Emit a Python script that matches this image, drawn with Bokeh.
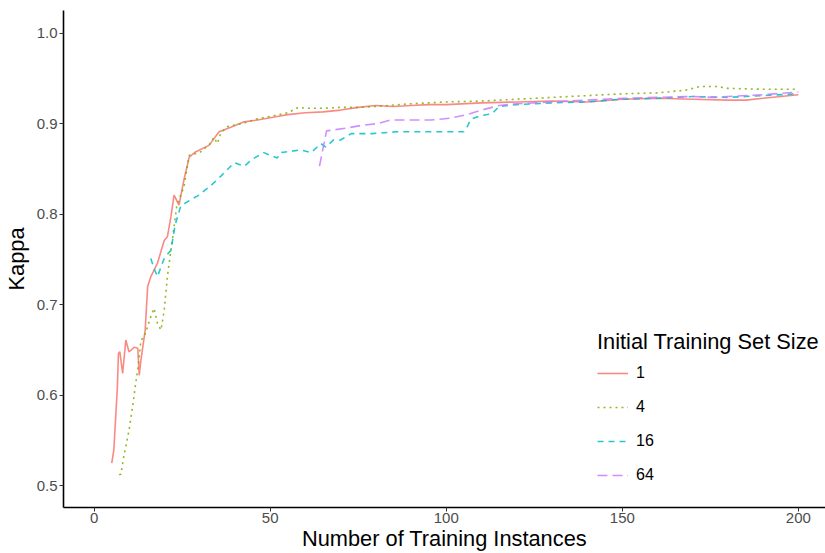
from bokeh.plotting import figure
from bokeh.models import Range1d, Legend, LegendItem, FixedTicker, NumeralTickFormatter
from bokeh.embed import file_html
from bokeh.resources import INLINE

# Series: initial training set size 1
x1 = [5, 5.6, 6.6, 6.9, 7.3, 8.1, 9.0, 9.9, 11.4, 12.4, 12.8, 13.3, 14.5, 15.2, 16.1, 18.0,
      19.9, 20.8, 21.8, 22.7, 24.1, 25.5, 27.0, 28.9, 32.6, 35.5, 38.8, 42.6, 46.4, 52,
      55, 60, 65, 70, 75, 80, 85, 90, 95, 100, 110, 120, 130, 140, 150, 160, 170, 180,
      185, 190, 200]
y1 = [0.525, 0.540, 0.609, 0.646, 0.648, 0.624, 0.661, 0.648, 0.653, 0.652, 0.622, 0.639,
      0.672, 0.720, 0.731, 0.746, 0.771, 0.775, 0.797, 0.821, 0.810, 0.838, 0.863, 0.869,
      0.876, 0.891, 0.896, 0.902, 0.904, 0.908, 0.910, 0.912, 0.913, 0.915, 0.918, 0.920,
      0.919, 0.920, 0.921, 0.921, 0.923, 0.924, 0.925, 0.924, 0.927, 0.928, 0.927, 0.926,
      0.926, 0.928, 0.932]

# Series: initial training set size 4
x4 = [7.1, 7.6, 8.5, 9.9, 10.9, 11.8, 12.6, 13.3, 14.2, 16.1, 17.0, 18.0, 19.0, 19.9, 20.8,
      21.8, 22.5, 23.5, 25.5, 27, 30, 33, 34, 35, 36, 38, 42, 46, 50, 55, 58, 60, 65, 70,
      75, 80, 90, 100, 110, 120, 130, 140, 150, 160, 168, 172, 177, 180, 190, 200]
y4 = [0.512, 0.513, 0.534, 0.561, 0.587, 0.613, 0.635, 0.661, 0.664, 0.687, 0.696, 0.679,
      0.672, 0.694, 0.731, 0.760, 0.780, 0.810, 0.830, 0.865, 0.868, 0.878, 0.885, 0.878,
      0.890, 0.897, 0.900, 0.905, 0.908, 0.912, 0.918, 0.917, 0.917, 0.918, 0.918, 0.919,
      0.922, 0.924, 0.925, 0.927, 0.929, 0.931, 0.933, 0.934, 0.937, 0.941, 0.941, 0.939,
      0.938, 0.938]

# Series: initial training set size 16
x16 = [16.1, 17, 18, 19, 20, 21.8, 23, 24.6, 27, 29.3, 33, 36, 39.8, 42.6, 45, 48.2, 52, 53,
       58.7, 61.6, 64.4, 65.8, 68, 70, 73, 79, 86, 92, 100, 105, 106, 107, 110, 113, 115,
       120, 125, 130, 140, 150, 160, 170, 180, 190, 200]
y16 = [0.751, 0.740, 0.731, 0.742, 0.752, 0.760, 0.788, 0.809, 0.815, 0.820, 0.831, 0.842,
       0.857, 0.853, 0.861, 0.868, 0.862, 0.868, 0.871, 0.868, 0.878, 0.874, 0.882, 0.882,
       0.889, 0.889, 0.891, 0.891, 0.891, 0.891, 0.897, 0.905, 0.909, 0.911, 0.919, 0.921,
       0.922, 0.923, 0.924, 0.927, 0.928, 0.930, 0.929, 0.931, 0.933]

# Series: initial training set size 64
x64 = [64, 66, 71.4, 75.8, 80.4, 84.2, 90, 95.6, 101, 106, 110, 115, 120, 130, 140, 150,
       160, 170, 176, 180, 190, 200]
y64 = [0.853, 0.892, 0.895, 0.898, 0.900, 0.904, 0.904, 0.904, 0.906, 0.910, 0.915, 0.920,
       0.922, 0.924, 0.926, 0.928, 0.929, 0.930, 0.929, 0.930, 0.932, 0.935]

series_labels = ["1", "4", "16", "64"]
x_ticks = [0, 50, 100, 150, 200]
y_ticks = [0.5, 0.6, 0.7, 0.8, 0.9, 1.0]

colors = ["#F8766D", "#7CAE00", "#00BFC4", "#C77CFF"]
dashes = ["solid", "2 4", "6 5", "10 5"]
FONT = "Liberation Sans"

p = figure(width=825, height=553, x_range=Range1d(-8.7, 207.7), y_range=Range1d(0.476, 1.025),
           output_backend="svg", toolbar_location=None,
           min_border_left=63, min_border_right=0, min_border_top=10, min_border_bottom=46)
p.outline_line_color = None
p.xgrid.visible = False
p.ygrid.visible = False
p.background_fill_color = "white"

renderers = []
for xs, ys, c, d in zip([x1, x4, x16, x64], [y1, y4, y16, y64], colors, dashes):
    r = p.line(xs, ys, line_color=c, line_width=1.6, line_dash=d, line_alpha=0.85)
    renderers.append(r)

for ax in (p.xaxis[0], p.yaxis[0]):
    ax.axis_line_color = "black"
    ax.axis_line_width = 1.6
    ax.major_tick_line_color = "#333333"
    ax.major_tick_out = 4
    ax.major_tick_in = 0
    ax.minor_tick_line_color = None
    ax.major_label_text_color = "#4d4d4d"
    ax.major_label_text_font = FONT
    ax.major_label_text_font_size = "15px"
    ax.axis_label_text_font = FONT
    ax.axis_label_text_font_size = "21.8px"
    ax.axis_label_text_font_style = "normal"
    ax.axis_label_text_color = "black"

p.xaxis.ticker = FixedTicker(ticks=x_ticks)
p.yaxis.ticker = FixedTicker(ticks=y_ticks)
p.yaxis.formatter = NumeralTickFormatter(format="0.0")
p.xaxis.axis_label = "Number of Training Instances"
p.yaxis.axis_label = "Kappa"
p.xaxis.major_label_standoff = 1
p.xaxis.axis_label_standoff = 0
p.yaxis.major_label_standoff = 2
p.yaxis.axis_label_standoff = 5

items = [LegendItem(label=lab, renderers=[r]) for lab, r in zip(series_labels, renderers)]
legend = Legend(items=items, title="Initial Training Set Size", location=(534, 22),
                padding=0, margin=0, spacing=14, glyph_width=31, glyph_height=20,
                label_height=20, label_standoff=8, title_standoff=8,
                background_fill_alpha=0, border_line_alpha=0)
legend.title_text_font = FONT
legend.title_text_font_size = "21.8px"
legend.title_text_font_style = "normal"
legend.title_text_color = "black"
legend.label_text_font = FONT
legend.label_text_font_size = "16px"
legend.label_text_color = "black"
p.add_layout(legend)

open("out.html", "w").write(file_html(p, INLINE))
